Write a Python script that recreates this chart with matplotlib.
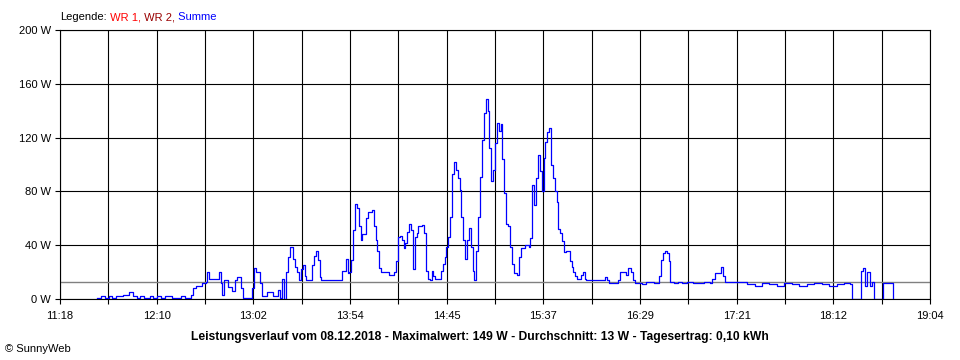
import numpy as np
import matplotlib.pyplot as plt

plt.rcParams['font.family'] = ['Liberation Sans', 'DejaVu Sans']

zeit = ['11:38', '11:40', '11:42', '11:44', '11:46', '11:48', '11:50', '11:52', '11:53', '11:55',
        '11:57', '11:59', '12:01', '12:03', '12:06', '12:08', '12:10', '12:12', '12:14', '12:16',
        '12:18', '12:21', '12:23', '12:25', '12:28', '12:29', '12:31', '12:34', '12:36', '12:37',
        '12:38', '12:41', '12:43', '12:44', '12:45', '12:46', '12:48', '12:50', '12:52', '12:53',
        '12:55', '12:56', '13:00', '13:01', '13:02', '13:03', '13:05', '13:06', '13:09', '13:12',
        '13:15', '13:16', '13:17', '13:18', '13:19', '13:20', '13:21', '13:22', '13:23', '13:24',
        '13:25', '13:26', '13:27', '13:28', '13:29', '13:30', '13:32', '13:33', '13:34', '13:35',
        '13:36', '13:37', '13:38', '13:48', '13:49', '13:51', '13:52', '13:53', '13:54', '13:55',
        '13:56', '13:57', '13:58', '13:59', '14:00', '14:01', '14:02', '14:03', '14:05', '14:06',
        '14:07', '14:08', '14:09', '14:10', '14:13', '14:14', '14:16', '14:17', '14:18', '14:19',
        '14:20', '14:21', '14:22', '14:23', '14:24', '14:25', '14:26', '14:27', '14:28', '14:29',
        '14:30', '14:32', '14:33', '14:34', '14:35', '14:36', '14:37', '14:38', '14:39', '14:41',
        '14:42', '14:43', '14:44', '14:45', '14:46', '14:47', '14:48', '14:49', '14:50', '14:51',
        '14:52', '14:53', '14:54', '14:55', '14:56', '14:57', '14:58', '14:59', '15:00', '15:01',
        '15:02', '15:03', '15:04', '15:05', '15:06', '15:07', '15:08', '15:09', '15:10', '15:11',
        '15:12', '15:13', '15:14', '15:15', '15:16', '15:17', '15:18', '15:19', '15:20', '15:21',
        '15:23', '15:24', '15:25', '15:27', '15:29', '15:30', '15:31', '15:32', '15:33', '15:34',
        '15:35', '15:36', '15:37', '15:38', '15:39', '15:40', '15:41', '15:42', '15:43', '15:44',
        '15:45', '15:46', '15:47', '15:48', '15:49', '15:51', '15:52', '15:53', '15:54', '15:55',
        '15:56', '15:57', '15:58', '15:59', '16:00', '16:09', '16:10', '16:11', '16:12', '16:16',
        '16:17', '16:18', '16:21', '16:22', '16:24', '16:25', '16:26', '16:29', '16:30', '16:32',
        '16:34', '16:36', '16:38', '16:39', '16:40', '16:41', '16:42', '16:43', '16:44', '16:45',
        '16:47', '16:49', '16:51', '16:54', '16:57', '17:00', '17:03', '17:06', '17:07', '17:09',
        '17:11', '17:12', '17:13', '17:14', '17:20', '17:25', '17:26', '17:30', '17:34', '17:38',
        '17:42', '17:46', '17:50', '17:54', '17:58', '18:02', '18:06', '18:10', '18:14', '18:18',
        '18:21', '18:22', '18:26', '18:27', '18:28', '18:29', '18:30', '18:31', '18:32', '18:33',
        '18:34', '18:38', '18:39', '18:43', '18:44']
leistung = [1, 2, 1, 2, 1, 2, 2, 3, 3, 5,
            2, 1, 2, 1, 2, 1, 2, 1, 2, 2,
            1, 1, 2, 1, 3, 8, 10, 12, 13, 20,
            15, 15, 20, 12, 3, 14, 9, 6, 14, 16,
            8, 1, 1, 8, 23, 20, 12, 2, 5, 2,
            7, 1, 15, 0, 20, 31, 39, 39, 30, 24,
            20, 14, 22, 25, 17, 14, 14, 25, 32, 36,
            29, 16, 14, 14, 21, 30, 19, 20, 29, 51,
            71, 68, 54, 44, 48, 48, 60, 65, 66, 54,
            44, 36, 23, 20, 20, 18, 18, 20, 28, 46,
            47, 44, 38, 42, 50, 56, 51, 22, 46, 49,
            54, 55, 49, 21, 15, 14, 21, 17, 15, 15,
            21, 26, 31, 39, 46, 61, 93, 102, 96, 90,
            81, 61, 44, 30, 44, 53, 39, 21, 14, 36,
            61, 91, 118, 138, 149, 140, 112, 88, 96, 116,
            131, 125, 130, 104, 79, 56, 54, 39, 26, 19,
            18, 31, 38, 40, 39, 45, 85, 70, 90, 107,
            95, 80, 105, 117, 124, 127, 100, 90, 80, 72,
            52, 49, 43, 35, 36, 28, 24, 20, 17, 15,
            15, 18, 20, 15, 14, 14, 16, 14, 12, 12,
            14, 20, 18, 23, 20, 14, 12, 12, 11, 13,
            13, 12, 12, 17, 29, 34, 36, 34, 28, 13,
            12, 13, 12, 13, 12, 12, 13, 12, 15, 19,
            19, 24, 17, 13, 13, 13, 11, 10, 12, 11,
            10, 12, 11, 10, 11, 12, 11, 10, 11, 12,
            11, 0, 0, 21, 23, 10, 20, 20, 10, 13,
            0, 0, 12, 12, 0]

durchschnitt = 13
y_werte = [0, 40, 80, 120, 160, 200]
x_labels = ['11:18', '12:10', '13:02', '13:54', '14:45', '15:37', '16:29', '17:21', '18:12', '19:04']


def minuten(s):
    h, m = s.split(':')
    return int(h) * 60 + int(m)


t = np.array([minuten(z) for z in zeit])
t0, t1 = minuten(x_labels[0]), minuten(x_labels[-1])

fig = plt.figure(figsize=(9.6, 3.6), dpi=100)
ax = fig.add_axes([60 / 960, 1 - 299 / 360, 870 / 960, 269 / 360])

ax.plot(t, leistung, color='#0000ff', lw=0.9, drawstyle='steps-post', zorder=3)
ax.axhline(durchschnitt, color='#808080', lw=1.0, zorder=2)

ax.set_xlim(t0, t1)
ax.set_ylim(0, 200)

# Gitter: jede zweite Linie beschriftet
xt = np.linspace(t0, t1, 2 * len(x_labels) - 1)
ax.set_xticks(xt)
ax.set_xticklabels([x_labels[i // 2] if i % 2 == 0 else '' for i in range(len(xt))])
ax.set_yticks(y_werte)
ax.set_yticklabels([f'{v} W' for v in y_werte])
ax.grid(True, color='black', lw=0.8, zorder=1)
ax.set_axisbelow(True)

ax.tick_params(direction='out', length=3.6, width=0.8, labelsize=8, colors='black')
ax.tick_params(axis='x', pad=5)
ax.tick_params(axis='y', pad=3)
for s in ax.spines.values():
    s.set_linewidth(0.8)
    s.set_color('black')

# Legende oben links
txt = fig.text(60 / 960, 1 - 17 / 360, 'Legende:', fontsize=8, va='center', ha='left')
for teil, farbe in [(' WR 1,', '#ff0000'), (' WR 2,', '#990000'), (' Summe', '#0000ff')]:
    txt = ax.annotate(teil, xy=(1, 0), xycoords=txt, fontsize=8, color=farbe,
                      va='bottom', ha='left', annotation_clip=False)

fig.text(0.5, 1 - 337 / 360,
         'Leistungsverlauf vom 08.12.2018 - Maximalwert: 149 W - Durchschnitt: 13 W - Tagesertrag: 0,10 kWh',
         fontsize=8.7, fontweight='bold', ha='center', va='center')
fig.text(5 / 960, 1 - 349 / 360, '© SunnyWeb', fontsize=8, ha='left', va='center')

fig.savefig('out.png', dpi=100)
